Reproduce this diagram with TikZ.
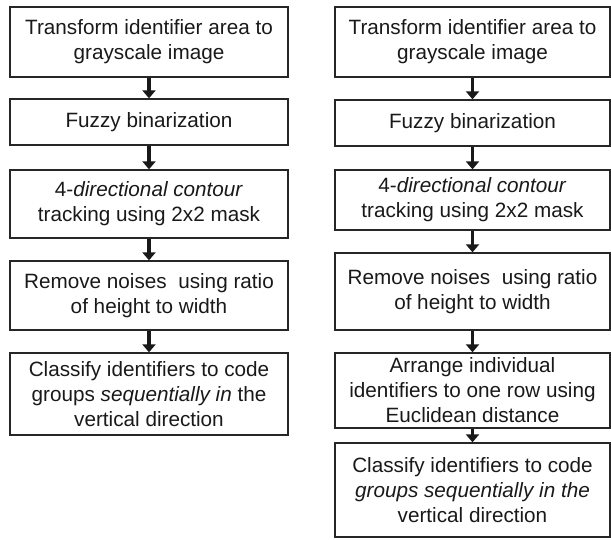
\documentclass[tikz,border=0pt]{standalone}
\usepackage{fontspec}
\setmainfont{Liberation Sans}
\usetikzlibrary{arrows.meta}
\tikzset{
  stepbox/.style={draw=black!85, line width=1.3pt, rectangle, align=center, inner sep=0pt,
    font=\fontsize{20.7}{25}\selectfont, text=black!90},
  flowarrow/.style={draw=black!90, line width=3.6pt, -{Triangle[width=13pt,length=8pt]}}
}
\begin{document}
\begin{tikzpicture}[x=1pt,y=-1pt]
\useasboundingbox (0,0) rectangle (611,540);
% left column
\node[stepbox, minimum width=278pt, minimum height=70pt] (L1) at (149,42) {Transform identifier area to\\grayscale image};
\node[stepbox, minimum width=278pt, minimum height=46pt] (L2) at (149,122) {Fuzzy binarization};
\node[stepbox, minimum width=278pt, minimum height=68pt] (L3) at (149,204) {4-\textit{directional contour}\\tracking using 2x2 mask};
\node[stepbox, minimum width=278pt, minimum height=69pt] (L4) at (149,295.5) {Remove noises\ \ using ratio\\of height to width};
\node[stepbox, minimum width=278pt, minimum height=82pt] (L5) at (149,394) {Classify identifiers to code\\groups \textit{sequentially in} the\\vertical direction};
% right column
\node[stepbox, minimum width=275pt, minimum height=70pt] (R1) at (472.5,42) {Transform identifier area to\\grayscale image};
\node[stepbox, minimum width=275pt, minimum height=46pt] (R2) at (472.5,123) {Fuzzy binarization};
\node[stepbox, minimum width=275pt, minimum height=60pt] (R3) at (472.5,200) {4-\textit{directional contour}\\tracking using 2x2 mask};
\node[stepbox, minimum width=275pt, minimum height=77pt] (R4) at (472.5,291.5) {Remove noises\ \ using ratio\\of height to width};
\node[stepbox, minimum width=275pt, minimum height=75pt] (R5) at (472.5,390.5) {Arrange individual\\identifiers to one row using\\Euclidean distance};
\node[stepbox, minimum width=275pt, minimum height=94pt] (R6) at (472.5,490) {Classify identifiers to code\\\textit{groups sequentially in the}\\vertical direction};
% arrows
\draw[flowarrow] (L1.south) -- (L2.north);
\draw[flowarrow] (L2.south) -- (L3.north);
\draw[flowarrow] (L3.south) -- (L4.north);
\draw[flowarrow] (L4.south) -- (L5.north);
\draw[flowarrow] (R1.south) -- (R2.north);
\draw[flowarrow] (R2.south) -- (R3.north);
\draw[flowarrow] (R3.south) -- (R4.north);
\draw[flowarrow] (R4.south) -- (R5.north);
\draw[flowarrow] (R5.south) -- (R6.north);
\end{tikzpicture}
\end{document}
